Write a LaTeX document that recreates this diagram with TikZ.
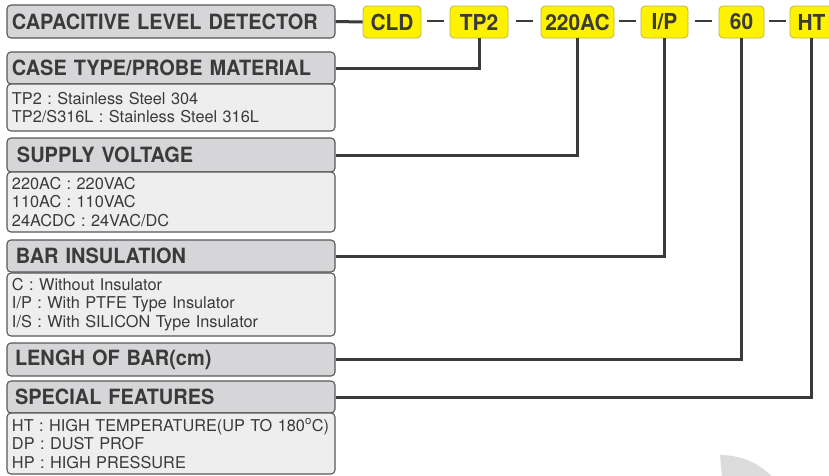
\documentclass[tikz,border=0pt]{standalone}
\usepackage{fontspec}
\setmainfont{TeX Gyre Heros}
\newfontfamily\hdrfont[FakeStretch=0.95]{TeX Gyre Heros}
\usetikzlibrary{calc}
\definecolor{hdrgray}{HTML}{D6D6D8}
\definecolor{txtgray}{HTML}{EEEEEE}
\definecolor{codeyel}{HTML}{FFF200}
\definecolor{linedark}{HTML}{3A3A3A}
\frenchspacing

\begin{document}
\begin{tikzpicture}[x=1pt,y=-1pt,
  hdr/.style={draw=linedark!85, line width=1.1pt, fill=hdrgray, rounded corners=4pt,
    minimum width=328pt, inner xsep=5pt, inner ysep=0pt, text width=318pt, align=left,
    font=\hdrfont\fontsize{21}{22}\selectfont\bfseries, text=linedark},
  txt/.style={hdr, fill=txtgray, font=\fontsize{16.3}{18.5}\selectfont},
  code/.style={draw=olive!60, line width=0.8pt, fill=codeyel, rounded corners=4pt,
    minimum height=32pt, inner sep=0pt, font=\hdrfont\fontsize{22}{22}\selectfont\bfseries, text=linedark},
  conn/.style={draw=linedark, line width=3pt},
  dashline/.style={draw=linedark, line width=2pt}]
\useasboundingbox (0,0) rectangle (829,475);

% watermark fragment
\fill[gray!28] (720,455) .. controls (742,455) and (760,464) .. (771,476) -- (722,476) -- cycle;

% left column
\node[hdr, minimum height=33pt] (h1) at (171,21.5) {CAPACITIVE LEVEL DETECTOR};
\node[hdr, minimum height=32pt] (h2) at (171,68) {CASE TYPE/PROBE MATERIAL};
\node[txt, minimum height=47pt] (d2) at (171,107.5) {TP2 : Stainless Steel 304\\TP2/S316L : Stainless Steel 316L};
\node[hdr, minimum height=34pt] (h3) at (171,155) {\hspace{5pt}SUPPLY VOLTAGE};
\node[txt, minimum height=60pt] (d3) at (171,202) {220AC : 220VAC\\110AC : 110VAC\\24ACDC : 24VAC/DC};
\node[hdr, minimum height=32pt] (h4) at (171,256) {\hspace{4pt}BAR INSULATION};
\node[txt, minimum height=63pt] (d4) at (171,304.5) {C : Without Insulator\\I/P : With PTFE Type Insulator\\I/S : With SILICON Type Insulator};
\node[hdr, minimum height=33pt] (h5) at (171,359.5) {\hspace{3pt}LENGH OF BAR(cm)};
\node[hdr, minimum height=32pt] (h6) at (171,397) {\hspace{3pt}SPECIAL FEATURES};
\node[txt, minimum height=61pt] (d6) at (171,443.5) {HT : HIGH TEMPERATURE(UP TO 180\textsuperscript{o}C)\\DP : DUST PROF\\HP : HIGH PRESSURE};

% code boxes
\node[code, minimum width=58pt] (cld) at (392,22) {CLD};
\node[code, minimum width=58pt] (tp) at (479,22) {TP2};
\node[code, minimum width=73pt] (volt) at (577.5,22) {220AC};
\node[code, minimum width=47pt] (ins) at (664.5,22) {I/P};
\node[code, minimum width=45pt] (len) at (741.5,22) {60};
\node[code, minimum width=43pt] (feat) at (811.5,22) {HT};

% dashes
\foreach \a/\b in {cld/tp, tp/volt, volt/ins, ins/len, len/feat}
  \draw[dashline] ($(\a.east)!0.5!(\b.west)$) +(-8.5,-1) -- +(8.5,-1);

% connectors
\draw[conn] (h1.east) -- (cld.west);
\draw[conn] (tp.south) |- (h2.east);
\draw[conn] (volt.south) |- (h3.east);
\draw[conn] (ins.south) |- (h4.east);
\draw[conn] (len.south) |- (h5.east);
\draw[conn] (feat.south) |- (h6.east);
\end{tikzpicture}
\end{document}
